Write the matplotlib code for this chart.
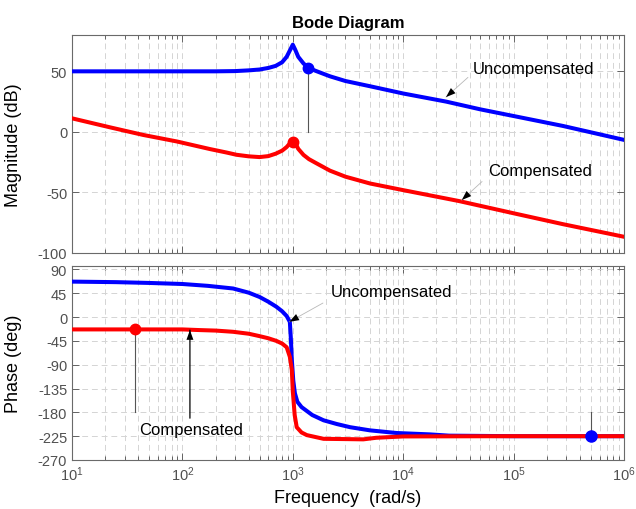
import matplotlib
matplotlib.use("Agg")
import matplotlib.pyplot as plt
from matplotlib.ticker import LogLocator, NullFormatter, FixedLocator

plt.rcParams['font.family'] = ['Liberation Sans', 'DejaVu Sans']
plt.rcParams['axes.unicode_minus'] = False

# ---- data ----
# magnitude, uncompensated
w_mag_unc = [10, 30, 100, 200, 300, 400, 500, 600, 700, 800, 880, 950, 1000, 1050, 1120,
             1250, 1380, 1600, 2170, 3000, 5000, 1e4, 2.45e4, 5e4, 1e5, 2.8e5, 1e6]
mag_unc = [50, 50, 50, 50, 50.2, 50.8, 51.5, 52.8, 54.5, 57.5, 62, 68, 72, 68, 62,
           56.5, 53, 50.5, 45.9, 42, 37.7, 31.7, 25, 18.6, 13.1, 4.9, -6.6]

# magnitude, compensated
w_mag_comp = [10, 22, 44, 89, 178, 250, 309, 400, 500, 600, 700, 800, 880, 950, 1000,
              1050, 1120, 1250, 1400, 1620, 2170, 3000, 5000, 1e4, 3.2e4, 1e5, 2.8e5, 1e6]
mag_comp = [11.2, 3.8, -2.5, -7.9, -14.2, -17, -18.9, -20.2, -20.8, -20, -18, -15.5, -12.5, -9, -6.5,
            -9, -14, -19, -22.5, -25.7, -32, -37, -42.6, -48.1, -57.1, -67.2, -76.2, -86.6]

# phase, uncompensated
w_ph_unc = [10, 25, 50, 100, 170, 288, 400, 500, 600, 710, 800, 880, 940, 960, 980, 1010,
            1045, 1100, 1200, 1500, 1900, 2500, 3300, 5000, 8700, 1.74e4, 2.6e4, 1e5, 1e6]
ph_unc = [67, 66, 64.5, 62.5, 59, 54, 46, 38, 29, 19.5, 11, 2, -9, -40, -81, -120,
          -144, -160, -170, -185, -195, -202, -208, -214, -219, -221.6, -224, -225, -225]

# phase, compensated
w_ph_comp = [10, 100, 145, 200, 288, 400, 500, 600, 710, 800, 880, 940, 980, 1000, 1040,
             1085, 1200, 1340, 1900, 3000, 4350, 5700, 1e4, 1e5, 1e6]
ph_comp = [-23.3, -23.3, -24.6, -25.5, -27.8, -31.5, -36, -40, -45, -50, -57, -75, -100, -140, -185,
           -208, -218, -223, -230, -230.5, -231, -228, -225.5, -225, -225]

# stability-margin markers
gm_unc = (1380, 53)       # magnitude marker, uncompensated
gm_comp = (1000, -8)      # magnitude marker, compensated
pm_comp = (37.3, -23.3)   # phase marker, compensated
pm_unc = (5.0e5, -225)    # phase marker, uncompensated

blue = '#0000ff'
red = '#ff0000'
tick_col = '#505050'
grid_col = '#d4d4d4'

fig = plt.figure(figsize=(6.36, 5.10), dpi=100)
W, H = 636.0, 510.0
ax1 = fig.add_axes([72 / W, 1 - 254 / H, 552 / W, 218 / H])
ax2 = fig.add_axes([72 / W, 1 - 461 / H, 552 / W, 194 / H])


def style_axes(ax):
    ax.set_xscale('log')
    ax.set_xlim(10, 1e6)
    ax.xaxis.set_major_locator(LogLocator(base=10, numticks=10))
    ax.xaxis.set_minor_locator(LogLocator(base=10, subs=range(2, 10), numticks=100))
    ax.xaxis.set_minor_formatter(NullFormatter())
    ax.tick_params(which='both', direction='in', top=True, right=True,
                   colors=tick_col, labelsize=10.5, width=0.6)
    ax.tick_params(which='major', length=5)
    ax.tick_params(which='minor', length=3)
    for s in ax.spines.values():
        s.set_color('#6a6a6a')
        s.set_linewidth(0.8)
    ax.grid(which='major', axis='both', color=grid_col, linestyle=(0, (6, 4)), lw=0.7)
    ax.grid(which='minor', axis='x', color=grid_col, linestyle=(0, (6, 4)), lw=0.7)
    ax.set_axisbelow(True)


# ---- magnitude ----
style_axes(ax1)
ax1.set_ylim(-100, 80)
ax1.yaxis.set_major_locator(FixedLocator([-100, -50, 0, 50]))
ax1.tick_params(labelbottom=False)
ax1.plot(w_mag_unc, mag_unc, color=blue, lw=2.9, solid_joinstyle='round', zorder=3)
ax1.plot(w_mag_comp, mag_comp, color=red, lw=2.9, solid_joinstyle='round', zorder=3)
ax1.plot([gm_unc[0], gm_unc[0]], [0, gm_unc[1]], color='#555555', lw=0.8, zorder=2)
ax1.plot(*gm_unc, 'o', color=blue, ms=7.5, zorder=4)
ax1.plot(*gm_comp, 'o', color=red, ms=7.5, zorder=4)
ax1.set_ylabel('Magnitude (dB)', fontsize=13)
ax1.yaxis.set_label_coords(-0.09, 0.5)
ax1.set_title('Bode Diagram', fontsize=12, fontweight='bold', pad=6)

# ---- phase ----
style_axes(ax2)
ax2.set_ylim(-270, 96.5)
ax2.yaxis.set_major_locator(FixedLocator(list(range(-270, 91, 45))))
ax2.plot(w_ph_unc, ph_unc, color=blue, lw=2.9, solid_joinstyle='round', zorder=3)
ax2.plot(w_ph_comp, ph_comp, color=red, lw=2.9, solid_joinstyle='round', zorder=3)
ax2.plot([pm_comp[0], pm_comp[0]], [-180, pm_comp[1]], color='#555555', lw=0.8, zorder=2)
ax2.plot([pm_unc[0], pm_unc[0]], [-180, pm_unc[1]], color='#555555', lw=0.8, zorder=2)
ax2.plot(*pm_comp, 'o', color=red, ms=7.5, zorder=4)
ax2.plot(*pm_unc, 'o', color=blue, ms=8, zorder=5)
ax2.set_ylabel('Phase (deg)', fontsize=13)
ax2.yaxis.set_label_coords(-0.09, 0.5)

fig.text(348 / W, 1 - 499 / H, 'Frequency  (rad/s)', fontsize=13,
         ha='center', va='center')


def note(ax, text, xy_text, start, tip, line_col='#b8b8b8', line_w=0.6):
    ax.text(*xy_text, text, fontsize=12, ha='center', va='center', zorder=6)
    ax.annotate('', xy=tip, xytext=start,
                arrowprops=dict(arrowstyle='-', color=line_col, lw=line_w,
                                shrinkA=0, shrinkB=0), zorder=6)
    ax.annotate('', xy=tip, xytext=start,
                arrowprops=dict(arrowstyle='-|>,head_length=0.7,head_width=0.25',
                                color='k', lw=0, shrinkA=0, shrinkB=0), zorder=6)


note(ax1, 'Uncompensated', (1.53e5, 52.5), (3.86e4, 45), (2.44e4, 28.7))
note(ax1, 'Compensated', (1.74e5, -32), (5.18e4, -41), (3.39e4, -56.3))
note(ax2, 'Uncompensated', (7.77e3, 47.9), (1.875e3, 26.5), (929, -9))
note(ax2, 'Compensated', (120, -212), (117, -191), (117, -24.6),
     line_col='k', line_w=0.9)

fig.savefig('out.png', dpi=100)
